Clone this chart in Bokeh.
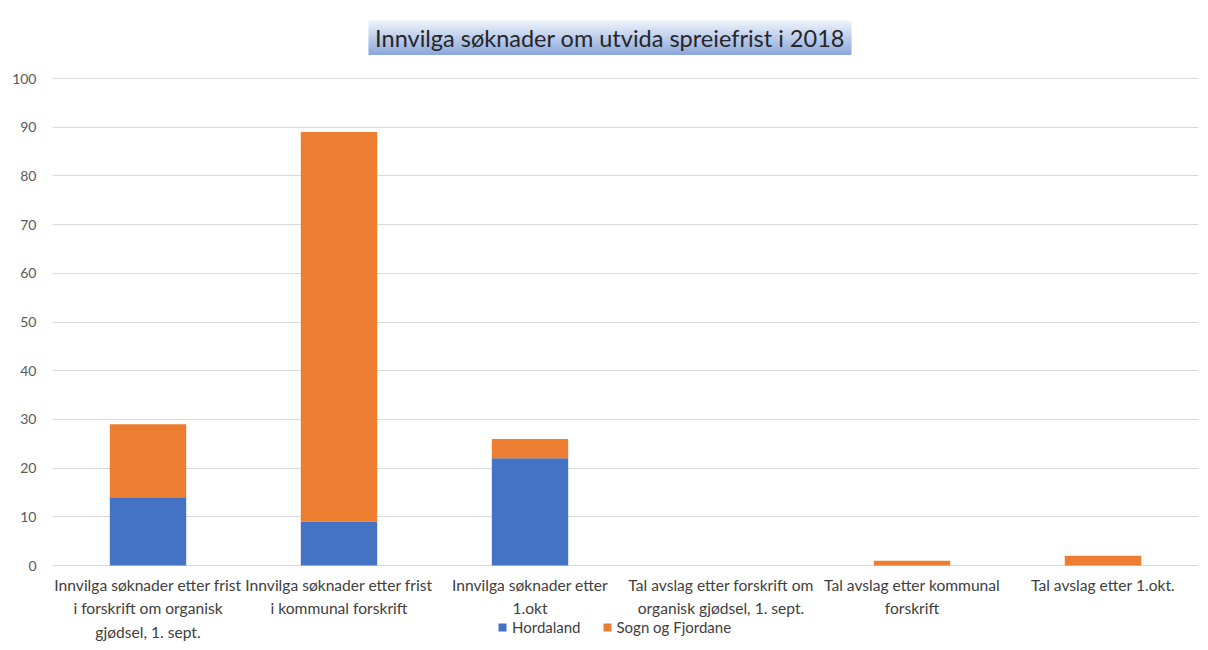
from bokeh.plotting import figure
from bokeh.models import (FactorRange, Range1d, FixedTicker, Legend, LegendItem,
                          BoxAnnotation, Label, ColumnDataSource)
from bokeh.core.properties import value
from bokeh.embed import file_html
from bokeh.resources import INLINE

# ---- data ----
categories = [
    "Innvilga søknader etter frist i forskrift om organisk gjødsel, 1. sept.",
    "Innvilga søknader etter frist i kommunal forskrift",
    "Innvilga søknader etter 1.okt",
    "Tal avslag etter forskrift om organisk gjødsel, 1. sept.",
    "Tal avslag etter kommunal forskrift",
    "Tal avslag etter 1.okt.",
]
tick_labels = [
    "Innvilga søknader etter frist\ni forskrift om organisk\ngjødsel, 1. sept.",
    "Innvilga søknader etter frist\ni kommunal forskrift",
    "Innvilga søknader etter\n1.okt",
    "Tal avslag etter forskrift om\norganisk gjødsel, 1. sept.",
    "Tal avslag etter kommunal\nforskrift",
    "Tal avslag etter 1.okt.",
]
series = ["Hordaland", "Sogn og Fjordane"]
hordaland = [14, 9, 22, 0, 0, 0]
sogn_og_fjordane = [15, 80, 4, 0, 1, 2]
y_ticks = [0, 10, 20, 30, 40, 50, 60, 70, 80, 90, 100]
title_text = "Innvilga søknader om utvida spreiefrist i 2018"

colors = ["#4472C4", "#ED7D31"]
FONT = "Lato"

# ---- layout (pixels) ----
W, H = 1200, 645
FRAME_L = 52
Y0_PX, Y100_PX = 565, 78            # where 0 and 100 sit on the page
ppu = (Y0_PX - Y100_PX) / 100.0     # pixels per unit
y_start = -(H - Y0_PX) / ppu
y_end = 100 + Y100_PX / ppu

source = ColumnDataSource(dict(cat=categories, Hordaland=hordaland,
                               **{"Sogn og Fjordane": sogn_og_fjordane}))

p = figure(x_range=FactorRange(*categories), y_range=Range1d(y_start, y_end),
           width=W, height=H, output_backend="svg", toolbar_location=None,
           min_border_left=FRAME_L, min_border_right=2, min_border_top=0,
           min_border_bottom=0)
p.outline_line_color = None
p.background_fill_color = "white"
p.border_fill_color = "white"

renderers = p.vbar_stack(series, x="cat", width=0.4, color=colors, source=source,
                         line_color=None)

# axes
p.xaxis.visible = False
p.yaxis.ticker = FixedTicker(ticks=y_ticks)
p.yaxis.axis_line_color = None
p.yaxis.major_tick_line_color = None
p.yaxis.minor_tick_line_color = None
p.yaxis.major_tick_out = 0
p.yaxis.major_label_standoff = 16
p.yaxis.major_label_text_font = FONT
p.yaxis.major_label_text_font_size = "14px"
p.yaxis.major_label_text_color = "#595959"

p.xgrid.grid_line_color = None
p.ygrid.grid_line_color = "#d9d9d9"
p.ygrid.ticker = FixedTicker(ticks=y_ticks)

# category labels under the baseline
p.text(x=categories, y=[0] * len(categories), text=tick_labels,
       text_align="center", text_baseline="top", y_offset=10,
       text_font=value(FONT), text_font_size="15.6px", text_color="#404040",
       text_line_height=1.31)

# legend
legend = Legend(items=[LegendItem(label=s, renderers=[r]) for s, r in zip(series, renderers)],
                orientation="horizontal", location=(445, 8),
                glyph_width=10, glyph_height=10, label_standoff=5, spacing=21,
                padding=0, margin=0, border_line_color=None,
                background_fill_alpha=0, label_text_font=FONT,
                label_text_font_size="15px", label_text_color="#404040",
                label_height=20)
p.add_layout(legend, "center")

# title box with vertical gradient
top_c = (236, 241, 251)
bot_c = (142, 170, 220)
n = 17
box_left, box_right, box_top, box_bottom = 316, 799, H - 20, H - 54
h = (box_top - box_bottom) / n
for i in range(n):
    t = i / (n - 1)
    c = tuple(int(round(top_c[k] + (bot_c[k] - top_c[k]) * t)) for k in range(3))
    col = "#%02x%02x%02x" % c
    p.add_layout(BoxAnnotation(left=box_left, right=box_right,
                               top=box_top - i * h, bottom=box_top - (i + 1) * h - 0.5,
                               left_units="screen", right_units="screen",
                               top_units="screen", bottom_units="screen",
                               fill_color=col, fill_alpha=1, line_alpha=0,
                               editable=False))

p.add_layout(Label(x=557.5, y=H - 37, x_units="screen", y_units="screen",
                   text=title_text, text_align="center", text_baseline="middle",
                   text_font=FONT, text_font_size="23.5px", text_color="#262626"))

open("out.html", "w").write(file_html(p, INLINE))
